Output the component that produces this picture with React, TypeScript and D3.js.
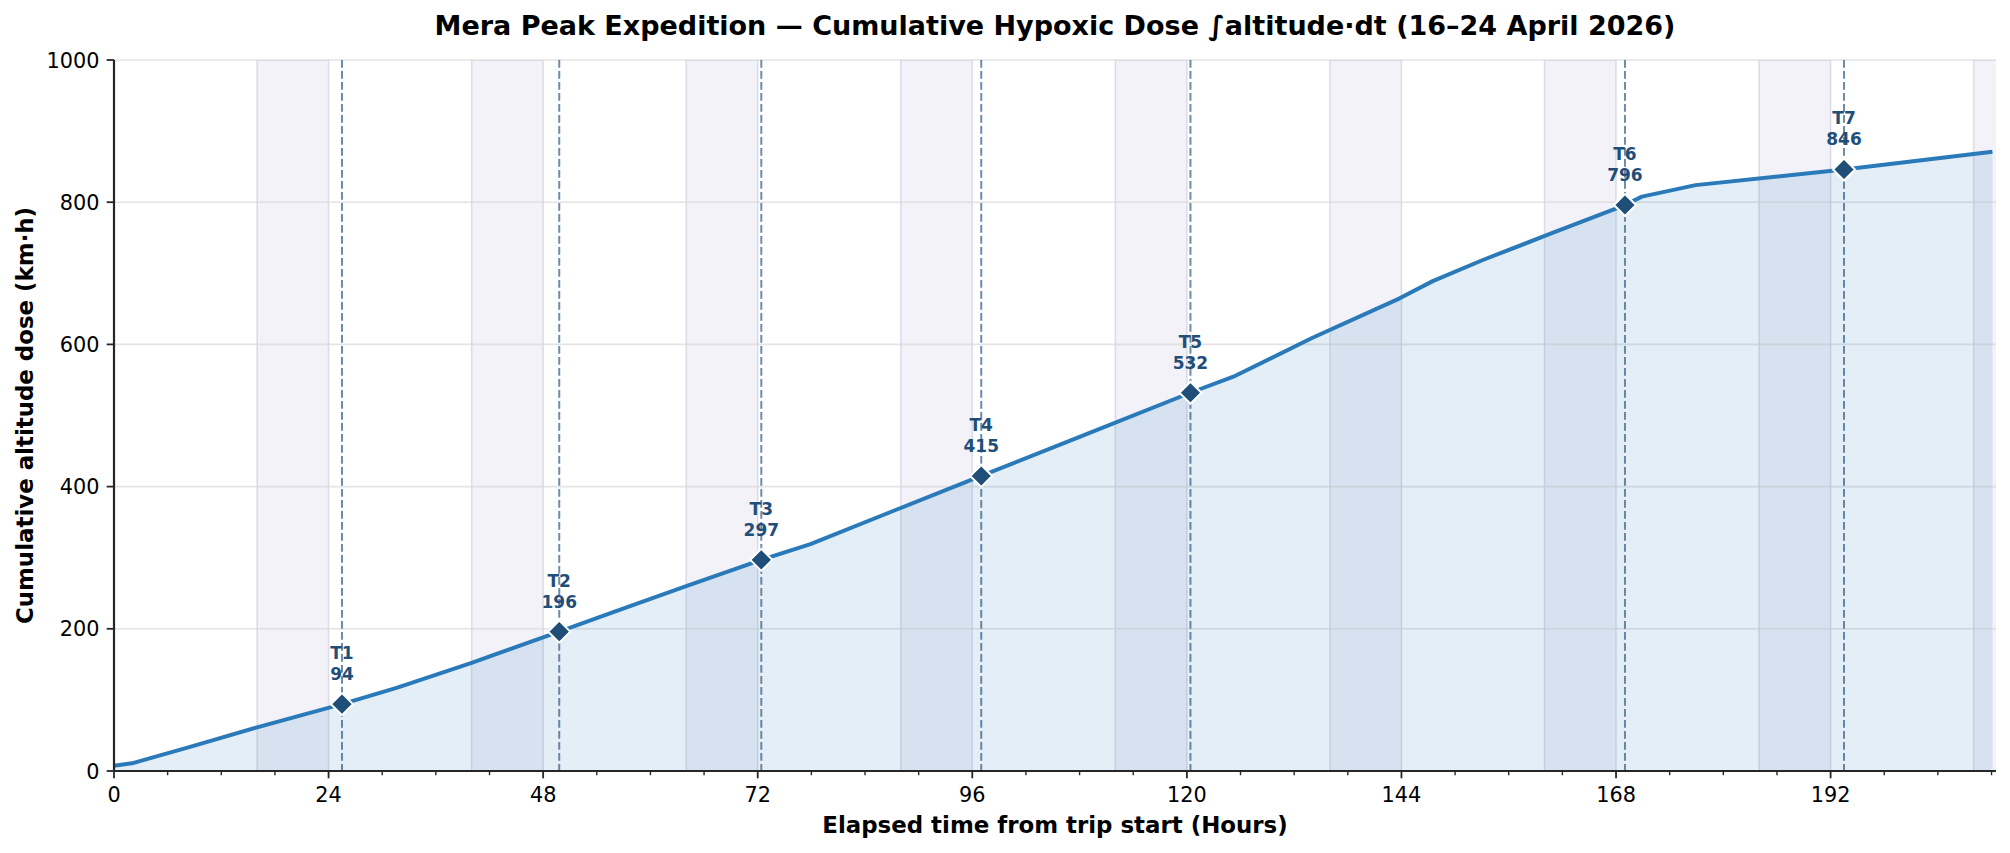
import React from "react";
import * as d3 from "d3";

// cumulative dose curve (hours, km·h)
const curveHours = [0, 2, 8.8, 16, 25.5, 31.6, 40, 49.8, 56, 64, 72.4, 77.9, 87, 97, 108, 120.4, 125.2, 134, 143.8, 147.5, 153.1, 160.6, 169, 170.9, 176.9, 193.5, 210.1];
const curveDose = [7.5, 10.8, 35, 61.4, 94, 117, 152, 196, 224, 260, 297, 319, 365, 415, 470, 532, 554.6, 609, 664.8, 689, 718.7, 755.3, 796, 807.8, 824, 846, 871];

// checkpoints
const markNames = ["T1", "T2", "T3", "T4", "T5", "T6", "T7"];
const markHours = [25.5, 49.8, 72.4, 97.0, 120.4, 169.0, 193.5];
const markDose = [94, 196, 297, 415, 532, 796, 846];

// night bands (start, end) in hours
const bandStart = [16, 40, 64, 88, 112, 136, 160, 184, 208];
const bandEnd = [24, 48, 72, 96, 120, 144, 168, 192, 216];

const xTicks = [0, 24, 48, 72, 96, 120, 144, 168, 192];
const yTicks = [0, 200, 400, 600, 800, 1000];

const W = 2010;
const H = 853;
const margin = { top: 60, right: 14, bottom: 82, left: 114 };
const font = "'DejaVu Sans', sans-serif";
const ink = "#1f4e79";
const lineColor = "#2a7ab9";

const App: React.FC = () => {
  const x = d3.scaleLinear().domain([0, 210.5]).range([margin.left, W - margin.right]);
  const y = d3.scaleLinear().domain([0, 1000]).range([H - margin.bottom, margin.top]);
  const x0 = x.range()[0];
  const x1 = x.range()[1];
  const yBottom = y(0);
  const yTop = y(1000);

  const pts: [number, number][] = curveHours.map((t, i) => [t, curveDose[i]]);
  const line = d3.line<[number, number]>().x(d => x(d[0])).y(d => y(d[1]));
  const area = d3.area<[number, number]>().x(d => x(d[0])).y0(yBottom).y1(d => y(d[1]));

  const minorTicks = d3.range(0, 211, 6).filter(t => t % 24 !== 0);

  return (
    <div style={{ position: "absolute", left: 0, top: 0 }}>
      <svg width={W} height={H} style={{ display: "block", background: "#fff", fontFamily: font }}>
        <defs>
          <clipPath id="plot">
            <rect x={x0} y={yTop} width={x1 - x0} height={yBottom - yTop} />
          </clipPath>
        </defs>

        <g clipPath="url(#plot)">
          {bandStart.map((s, i) => (
            <rect
              key={"b" + i}
              x={x(s)}
              y={yTop}
              width={x(bandEnd[i]) - x(s)}
              height={yBottom - yTop}
              fill="#cbcbe3"
              fillOpacity={0.25}
              stroke="#b8b8d4"
              strokeOpacity={0.45}
              strokeWidth={1.5}
            />
          ))}
        </g>

        {yTicks.slice(1).map(v => (
          <line key={"g" + v} x1={x0} x2={x1} y1={y(v)} y2={y(v)} stroke="#d9d9d9" strokeOpacity={0.7} strokeWidth={1.6} />
        ))}

        <path d={area(pts) ?? ""} fill={lineColor} fillOpacity={0.13} clipPath="url(#plot)" />

        {markHours.map((t, i) => (
          <line
            key={"d" + i}
            x1={x(t)}
            x2={x(t)}
            y1={yTop}
            y2={yBottom}
            stroke={ink}
            strokeOpacity={0.65}
            strokeWidth={2}
            strokeDasharray="7.7,3.3"
          />
        ))}

        <path d={line(pts) ?? ""} fill="none" stroke={lineColor} strokeWidth={4} strokeLinejoin="round" />

        {markHours.map((t, i) => {
          const cx = x(t);
          const cy = y(markDose[i]);
          const r = 11;
          return (
            <g key={"m" + i}>
              <path
                d={`M${cx},${cy - r}L${cx + r},${cy}L${cx},${cy + r}L${cx - r},${cy}Z`}
                fill={ink}
                stroke="#fff"
                strokeWidth={2}
              />
              <text x={cx} y={cy - 45} textAnchor="middle" fontSize={17} fontWeight="bold" fill={ink}>
                {markNames[i]}
              </text>
              <text x={cx} y={cy - 24} textAnchor="middle" fontSize={17} fontWeight="bold" fill={ink}>
                {markDose[i]}
              </text>
            </g>
          );
        })}

        {/* axes */}
        <line x1={x0} x2={x0} y1={yTop} y2={yBottom} stroke="#262626" strokeWidth={2.2} />
        <line x1={x0} x2={x1} y1={yBottom} y2={yBottom} stroke="#262626" strokeWidth={2.2} />

        {xTicks.map(t => (
          <g key={"xt" + t}>
            <line x1={x(t)} x2={x(t)} y1={yBottom} y2={yBottom + 7.3} stroke="#262626" strokeWidth={1.8} />
            <text x={x(t)} y={yBottom + 31} textAnchor="middle" fontSize={20.8} fill="#000">
              {t}
            </text>
          </g>
        ))}
        {minorTicks.map(t => (
          <line key={"mt" + t} x1={x(t)} x2={x(t)} y1={yBottom} y2={yBottom + 4.2} stroke="#262626" strokeWidth={1.4} />
        ))}

        {yTicks.map(v => (
          <g key={"yt" + v}>
            <line x1={x0 - 7.3} x2={x0} y1={y(v)} y2={y(v)} stroke="#262626" strokeWidth={1.8} />
            <text x={x0 - 14.6} y={y(v) + 7.5} textAnchor="end" fontSize={20.8} fill="#000">
              {v}
            </text>
          </g>
        ))}

        <text x={(x0 + x1) / 2} y={833} textAnchor="middle" fontSize={22.9} fontWeight="bold" fill="#000">
          Elapsed time from trip start (Hours)
        </text>
        <text
          transform={`translate(33,${(yTop + yBottom) / 2}) rotate(-90)`}
          textAnchor="middle"
          fontSize={22.9}
          fontWeight="bold"
          fill="#000"
        >
          Cumulative altitude dose (km·h)
        </text>

        <text x={(x0 + x1) / 2} y={35} textAnchor="middle" fontSize={27} fontWeight="bold" fill="#000">
          Mera Peak Expedition — Cumulative Hypoxic Dose ∫altitude·dt (16–24 April 2026)
        </text>
      </svg>
    </div>
  );
};

export default App;
